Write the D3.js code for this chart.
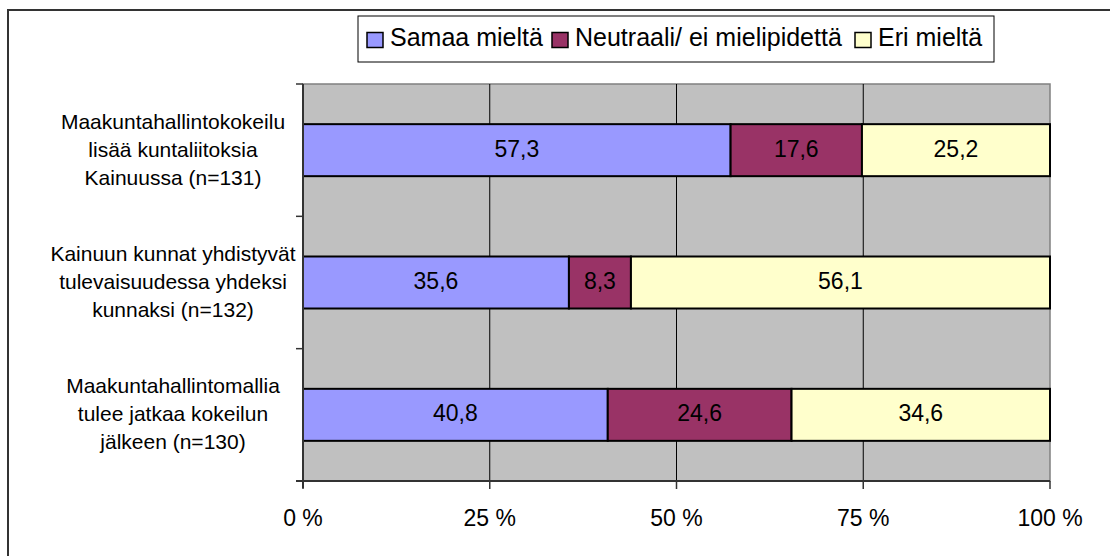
<!DOCTYPE html>
<html><head><meta charset="utf-8">
<script src="https://cdn.jsdelivr.net/npm/d3@7"></script>
<style>body{margin:0;background:#fff;} text{font-family:"Liberation Sans",Arial,sans-serif;}</style>
</head><body>
<svg id="c" width="1110" height="556"></svg>
<script>
const categories = [
  ["Maakuntahallintokokeilu","lisää kuntaliitoksia","Kainuussa (n=131)"],
  ["Kainuun kunnat yhdistyvät","tulevaisuudessa yhdeksi","kunnaksi (n=132)"],
  ["Maakuntahallintomallia","tulee jatkaa kokeilun","jälkeen (n=130)"]
];
const seriesNames = ["Samaa mieltä","Neutraali/ ei mielipidettä","Eri mieltä"];
const samaa = [57.3, 35.6, 40.8];
const neutraali = [17.6, 8.3, 24.6];
const eri = [25.2, 56.1, 34.6];
const tickValues = [0, 0.25, 0.5, 0.75, 1];
const tickLabels = ["0 %","25 %","50 %","75 %","100 %"];
const colors = ["#9999FF","#993366","#FFFFCC"];

const svg = d3.select("#c");
const pL = 303, pR = 1050, pT = 84, pB = 481;

// outer frame
svg.append("rect").attr("x",8).attr("y",10).attr("width",1200).attr("height",700)
  .attr("fill","none").attr("stroke","#333").attr("stroke-width",2);

const x = d3.scaleLinear().domain([0,1]).range([pL,pR]);
const y = d3.scaleBand().domain(d3.range(categories.length)).range([pT,pB]).paddingInner(0.607).paddingOuter(0.3035);
const yb = d3.scaleBand().domain(d3.range(categories.length)).range([pT,pB]);

// plot area
svg.append("rect").attr("x",pL).attr("y",pT).attr("width",pR-pL).attr("height",pB-pT)
  .attr("fill","#C0C0C0").attr("stroke","#808080").attr("stroke-width",1.5);

// gridlines
svg.append("g").selectAll("line").data(tickValues.slice(1,-1)).join("line")
  .attr("x1",d=>x(d)).attr("x2",d=>x(d)).attr("y1",pT).attr("y2",pB)
  .attr("stroke","#000").attr("stroke-width",1);

// stacked bars
const rows = categories.map((c,i)=>({i, vals:[samaa[i],neutraali[i],eri[i]]}));
const stackData = rows.map(r=>{
  const tot = d3.sum(r.vals); let acc = 0;
  return r.vals.map((v,k)=>{const s={i:r.i,k,v,x0:acc/tot,x1:(acc+v)/tot}; acc+=v; return s;});
}).flat();

const g = svg.append("g");
g.selectAll("rect").data(stackData).join("rect")
  .attr("x",d=>x(d.x0)).attr("width",d=>x(d.x1)-x(d.x0))
  .attr("y",d=>y(d.i)).attr("height",y.bandwidth())
  .attr("fill",d=>colors[d.k]).attr("stroke","#000").attr("stroke-width",2);
g.selectAll("text").data(stackData).join("text")
  .attr("x",d=>(x(d.x0)+x(d.x1))/2).attr("y",d=>y(d.i)+y.bandwidth()/2+6.5)
  .attr("text-anchor","middle")
  .attr("font-size",23).attr("fill","#000")
  .text(d=>d3.format(".1f")(d.v).replace(".",","));

// y axis
const ya = svg.append("g");
ya.append("line").attr("x1",pL).attr("x2",pL).attr("y1",pT).attr("y2",pB+7).attr("stroke","#333").attr("stroke-width",2);
ya.selectAll("line.t").data(d3.range(categories.length+1)).join("line").attr("class","t")
  .attr("x1",pL-7).attr("x2",pL).attr("y1",d=>pT+d*yb.step()).attr("y2",d=>pT+d*yb.step())
  .attr("stroke","#333").attr("stroke-width",1.5);

// category labels
categories.forEach((lines,i)=>{
  const cy = yb(i)+yb.bandwidth()/2;
  svg.append("text").attr("text-anchor","middle").attr("font-size",21)
    .selectAll("tspan").data(lines).join("tspan")
    .attr("x",173).attr("y",(d,j)=>cy+6.5+(j-1)*28).text(d=>d);
});

// x axis
const xa = svg.append("g");
xa.append("line").attr("x1",pL-7).attr("x2",pR).attr("y1",pB).attr("y2",pB).attr("stroke","#333").attr("stroke-width",2);
xa.selectAll("line.t").data(tickValues).join("line").attr("class","t")
  .attr("x1",d=>x(d)).attr("x2",d=>x(d)).attr("y1",pB).attr("y2",pB+8)
  .attr("stroke","#333").attr("stroke-width",1.5);
xa.selectAll("text").data(tickValues).join("text")
  .attr("x",d=>x(d)).attr("y",526).attr("text-anchor","middle")
  .attr("font-size",23).text((d,i)=>tickLabels[i]);

// legend
const lg = svg.append("g");
lg.append("rect").attr("x",358).attr("y",16).attr("width",636).attr("height",46)
  .attr("fill","#fff").attr("stroke","#000").attr("stroke-width",1);
const legX = [367, 552, 855];
seriesNames.forEach((n,k)=>{
  lg.append("rect").attr("x",legX[k]).attr("y",32.5).attr("width",16).attr("height",15)
    .attr("fill",colors[k]).attr("stroke","#000").attr("stroke-width",1.5);
  lg.append("text").attr("x",legX[k]+23).attr("y",46)
    .attr("font-size",25).text(n);
});
</script>
</body></html>
